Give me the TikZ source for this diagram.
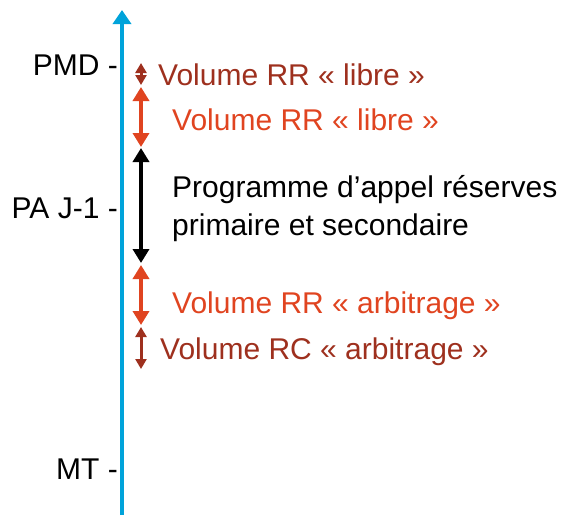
\documentclass[tikz,border=0pt]{standalone}
\usepackage{fontspec}
\setmainfont{Liberation Sans}
\usetikzlibrary{arrows.meta}
\definecolor{axisblue}{RGB}{0,163,218}
\definecolor{rrorange}{RGB}{224,68,32}
\definecolor{rcbrown}{RGB}{158,48,30}

\begin{document}
\begin{tikzpicture}[
  x=1pt,y=-1pt,
  every node/.style={
    inner sep=0pt,font=\fontsize{30}{38}\selectfont
  },
  axis_label/.style={
    anchor=base east
  },
  volume_label/.style={
    anchor=base west
  },
  big_arrow/.style={
    line width=4pt,{Triangle[width=16pt,length=14pt]}-{Triangle[width=16pt,length=14pt]}
  },
  small_arrow/.style={
    line width=3pt,{Triangle[width=11pt,length=10pt]}-{Triangle[width=11pt,length=10pt]}
  }]
  \useasboundingbox (0,0) rectangle (563,515);
  %
  \coordinate (axis_bot) at (122,515);
  \coordinate (axis_top) at (122,10);
  \draw[axisblue,line width=4pt,-{Triangle[width=18pt,length=14pt]}] (axis_bot) -- (axis_top);
  \node[axis_label] (pmd) at (118,75) {PMD -};
  \node[axis_label] (pa_j1) at (118,218) {PA J-1 -};
  \node[axis_label] (mt) at (118,479) {MT -};
  %
  \foreach \name/\top/\bot/\col/\kind in {
      rc_libre/63/85/rcbrown/small_arrow,
      rr_libre/87/147/rrorange/big_arrow,
      prog/148/263/black/big_arrow,
      rr_arbitrage/265/325/rrorange/big_arrow,
      rc_arbitrage/327/369/rcbrown/small_arrow} {
    \coordinate (\name_top) at (141,\top);
    \coordinate (\name_bot) at (141,\bot);
    \draw[\col,\kind] (\name_top) -- (\name_bot);
  }
  %
  \node[volume_label,rcbrown] (rc_libre_txt) at (158,85) {Volume RR « libre »};
  \node[volume_label,rrorange] (rr_libre_txt) at (172,130) {Volume RR « libre »};
  \node[volume_label,align=left] (prog_txt) at (172,235) {Programme d’appel réserves\\primaire et secondaire};
  \node[volume_label,rrorange] (rr_arbitrage_txt) at (172,313) {Volume RR « arbitrage »};
  \node[volume_label,rcbrown] (rc_arbitrage_txt) at (160,359) {Volume RC « arbitrage »};
\end{tikzpicture}
\end{document}
